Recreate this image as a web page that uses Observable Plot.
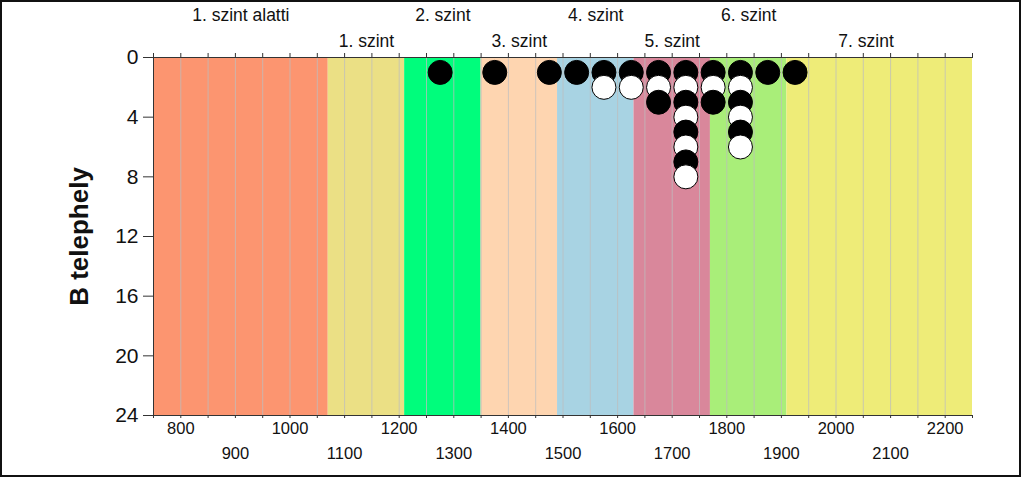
<!DOCTYPE html>
<html><head><meta charset="utf-8">
<script src="https://cdn.jsdelivr.net/npm/d3@7"></script>
<script src="https://cdn.jsdelivr.net/npm/@observablehq/plot@0.6"></script>
<style>
html,body{margin:0;padding:0;background:#fff;}
#wrap{position:relative;width:1024px;height:478px;overflow:hidden;}
#border{position:absolute;left:0;top:0;width:1021px;height:477px;border:2px solid #111;box-sizing:border-box;pointer-events:none;}
svg{display:block;}
</style></head><body><div id="wrap"><div id="border"></div></div>
<script>
// Level bands (x in the chart's own units)
const levelNames = ["1. szint alatti","1. szint","2. szint","3. szint","4. szint","5. szint","6. szint","7. szint"];
const levelStart = [750, 1070, 1210, 1350, 1490, 1630, 1770, 1910];
const levelEnd   = [1070, 1210, 1350, 1490, 1630, 1770, 1910, 2250];
const levelLabelAt = [910, 1140, 1280, 1420, 1560, 1700, 1840, 2055];
const levelPalette = ["#fc9570","#ebe085","#00fd7c","#fed5b0","#a8d3e3","#d9879b","#a9ee79","#eeec78"];

// Dot-plot bins: centre value and number of observations
const binCenters = [1275, 1375, 1475, 1525, 1575, 1625, 1675, 1725, 1775, 1825, 1875, 1925];
const binCounts  = [1, 1, 1, 1, 2, 2, 3, 8, 3, 6, 1, 1];

// Ticks
const xMinorTicks = d3.range(750, 2251, 50);
const xGrid = d3.range(800, 2201, 50);
const xLabelsUpper = [800, 1000, 1200, 1400, 1600, 1800, 2000, 2200];
const xLabelsLower = [900, 1100, 1300, 1500, 1700, 1900, 2100];
const yTicks = [0, 4, 8, 12, 16, 20, 24];
const yTitle = "B telephely";

const bands = levelNames.map((n, i) => ({name: n, x1: levelStart[i], x2: levelEnd[i], fill: levelPalette[i], at: levelLabelAt[i], row: i % 2}));
const points = [];
binCenters.forEach((c, i) => {
  for (let k = 1; k <= binCounts[i]; k++) points.push({x: c, y: k, fill: k % 2 ? "#000" : "#fff"});
});

const plain = d => String(d);
const font = '"Liberation Sans", Arial, Helvetica, sans-serif';
const chart = Plot.plot({
  width: 1024, height: 478,
  marginLeft: 153, marginRight: 52, marginTop: 57, marginBottom: 63,
  style: {fontFamily: font, background: "transparent", color: "#111", overflow: "visible"},
  x: {domain: [750, 2250]},
  y: {domain: [0, 24], reverse: true},
  color: {type: "identity"},
  marks: [
    Plot.rect(bands, {x1: "x1", x2: "x2", y1: 0, y2: 24, fill: "fill"}),
    Plot.ruleX(xGrid, {y1: 0, y2: 24, stroke: "#bdbdbd", strokeOpacity: 0.75, strokeWidth: 1}),
    Plot.ruleY([0, 24], {x1: 750, x2: 2250, stroke: "#333", strokeWidth: 1}),
    Plot.ruleX([750], {y1: 0, y2: 24, stroke: "#333", strokeWidth: 1}),
    Plot.axisX({anchor: "top", ticks: xMinorTicks, tickSize: 5, tickFormat: () => "", label: null, stroke: "#333"}),
    Plot.axisX({anchor: "bottom", ticks: xMinorTicks, tickSize: 3, tickFormat: () => "", label: null, stroke: "#333"}),
    Plot.axisX({anchor: "bottom", ticks: xLabelsUpper, tickSize: 0, tickPadding: 7, tickFormat: plain, fontSize: 16.5, label: null}),
    Plot.axisX({anchor: "bottom", ticks: xLabelsLower, tickSize: 0, tickPadding: 32, tickFormat: plain, fontSize: 16.5, label: null}),
    Plot.axisY({ticks: yTicks, tickSize: 10, tickPadding: 5, tickFormat: plain, fontSize: 21, label: null, stroke: "#333"}),
    Plot.text(bands.filter(d => d.row === 0), {x: "at", text: "name", frameAnchor: "top", lineAnchor: "middle", dy: -42, fontSize: 17.5, fill: "#111"}),
    Plot.text(bands.filter(d => d.row === 1), {x: "at", text: "name", frameAnchor: "top", lineAnchor: "middle", dy: -16.5, fontSize: 17.5, fill: "#111"}),
    Plot.text([yTitle], {frameAnchor: "left", textAnchor: "middle", lineAnchor: "middle", rotate: -90, dx: -74, fontSize: 26, fontWeight: "bold", fill: "#111"}),
    Plot.dot(points, {x: "x", y: "y", r: 12, fill: "fill", stroke: "#000", strokeWidth: 1})
  ]
});
const wrap = document.getElementById("wrap");
wrap.insertBefore(chart, document.getElementById("border"));
</script>
</body></html>
